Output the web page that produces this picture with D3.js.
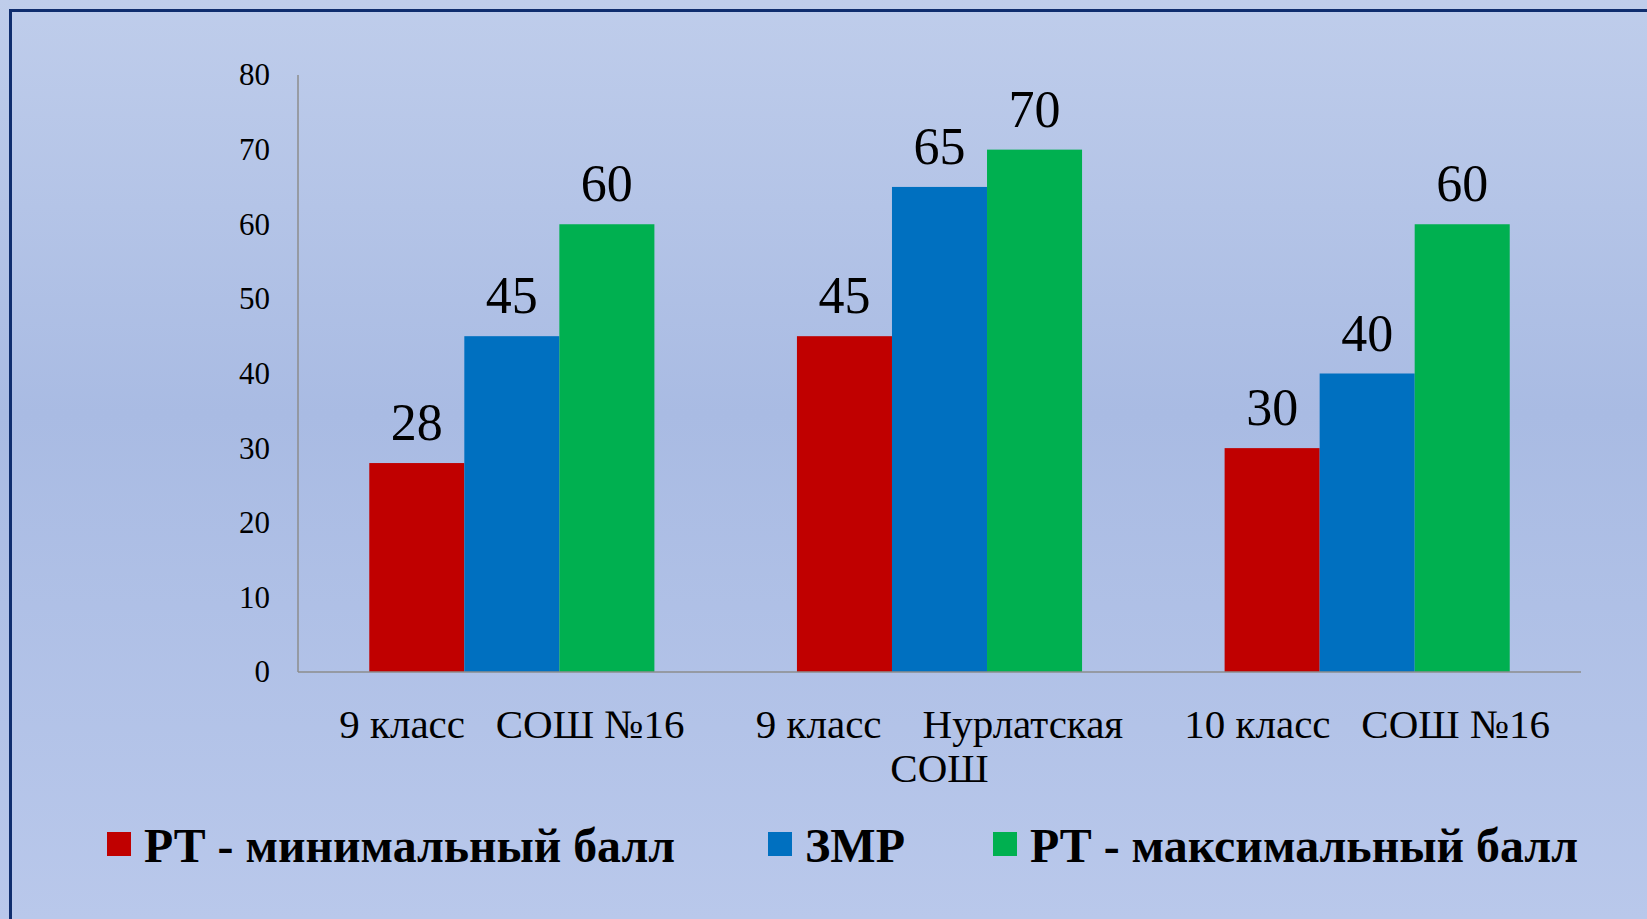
<!DOCTYPE html>
<html lang="ru">
<meta charset="utf-8">
<style>
  html, body { margin: 0; padding: 0; overflow: hidden; }
  text { font-family: 'Liberation Serif', 'Times New Roman', serif; fill: #000; }
  .tick text { font-size: 31px; }
  .xlab { font-size: 41px; text-anchor: middle; white-space: pre; }
  .val { font-size: 52px; text-anchor: middle; }
  .leg { font-size: 48px; font-weight: bold; }
  .axis line, .axis path { stroke: #8c8c8c; stroke-width: 1.5px; }
</style>
<body>
<script src="https://cdn.jsdelivr.net/npm/d3@7"></script>
<script>
  // data
  var categories = ['9 класс   СОШ №16', '9 класс    Нурлатская\nСОШ', '10 класс   СОШ №16']
  var series = ['РТ - минимальный балл', 'ЗМР', 'РТ - максимальный балл']
  var rtMin = [28, 45, 30]
  var zmr = [45, 65, 40]
  var rtMax = [60, 70, 60]
  var yTicks = [0, 10, 20, 30, 40, 50, 60, 70, 80]

  var values = [rtMin, zmr, rtMax]
  var color = ['#C00000', '#0070C0', '#00B050']

  var W = 1647, H = 919
  var svg = d3.select('body').append('svg').attr('width', W).attr('height', H)

  var defs = svg.append('defs')
  var grad = defs.append('linearGradient').attr('id', 'bg')
    .attr('x1', 0).attr('y1', 0).attr('x2', 0).attr('y2', 1)
  grad.append('stop').attr('offset', '0%').attr('stop-color', '#bfcdeb')
  grad.append('stop').attr('offset', '45%').attr('stop-color', '#a9bbe3')
  grad.append('stop').attr('offset', '100%').attr('stop-color', '#b9c8eb')

  svg.append('rect').attr('width', W).attr('height', H).attr('fill', 'url(#bg)')
  // slide frame, open to the right and bottom
  svg.append('path').attr('d', 'M10.5,' + H + 'V10.5H' + W)
    .attr('fill', 'none').attr('stroke', '#0f2d6e').attr('stroke-width', 3)

  var pLeft = 298, pRight = 1581, pTop = 75, pBottom = 672

  var x0 = d3.scaleBand().domain(d3.range(categories.length))
    .range([pLeft, pRight]).paddingInner(1 / 3).paddingOuter(1 / 6)
  var x1 = d3.scaleBand().domain(d3.range(series.length)).range([0, x0.bandwidth()])
  var y = d3.scaleLinear().domain([0, 80]).range([pBottom, pTop])

  // y axis, no tick marks
  var ya = svg.append('g').attr('class', 'axis').attr('transform', 'translate(' + pLeft + ',0)')
    .call(d3.axisLeft(y).tickValues(yTicks).tickSize(0).tickPadding(28))
  ya.select('.domain').attr('d', 'M0,' + pTop + 'V' + pBottom)

  var groups = svg.selectAll('.grp').data(categories).enter().append('g')
    .attr('transform', (d, i) => 'translate(' + x0(i) + ',0)')

  groups.selectAll('rect').data((d, i) => values.map(v => v[i])).enter().append('rect')
    .attr('x', (d, j) => x1(j))
    .attr('y', d => y(d))
    .attr('width', x1.bandwidth())
    .attr('height', d => pBottom - y(d))
    .attr('fill', (d, j) => color[j])

  groups.selectAll('.val').data((d, i) => values.map(v => v[i])).enter().append('text')
    .attr('class', 'val')
    .attr('x', (d, j) => x1(j) + x1.bandwidth() / 2)
    .attr('y', d => y(d) - 23)
    .text(d => d)

  // x axis line
  svg.append('line')
    .attr('x1', pLeft).attr('x2', pRight).attr('y1', pBottom).attr('y2', pBottom)
    .style('stroke', '#8c8c8c').style('stroke-width', 1.5)

  groups.each(function (d, i) {
    var t = d3.select(this).append('text').attr('class', 'xlab')
    d.split('\n').forEach(function (line, k) {
      t.append('tspan').attr('x', x0.bandwidth() / 2).attr('y', 738 + k * 44).text(line)
    })
  })

  // legend
  var legX = [107, 768, 993]
  var legW = [531, 100, 548]
  var leg = svg.selectAll('.legi').data(series).enter().append('g')
    .attr('transform', (d, i) => 'translate(' + legX[i] + ',832)')
  leg.append('rect').attr('width', 24).attr('height', 24).attr('fill', (d, i) => color[i])
  leg.append('text').attr('class', 'leg').attr('x', 37).attr('y', 30)
    .attr('textLength', (d, i) => legW[i]).attr('lengthAdjust', 'spacingAndGlyphs')
    .text(d => d)
</script>
</body>
</html>
